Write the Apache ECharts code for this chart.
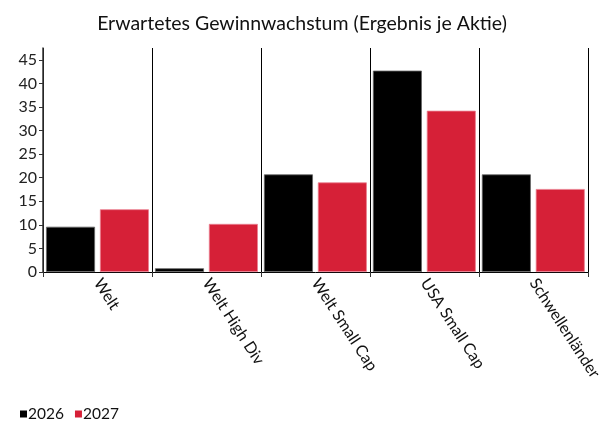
<!DOCTYPE html>
<html><head><meta charset="utf-8">
<script src="https://cdn.jsdelivr.net/npm/echarts@6/dist/echarts.min.js"></script>
<style>html,body{margin:0;padding:0;background:#fff}#c{width:604px;height:421px}</style>
</head><body><div id="c"></div>
<script>
const categories = ['Welt', 'Welt High Div', 'Welt Small Cap', 'USA Small Cap', 'Schwellenländer'];
const values2026 = [9.6, 0.8, 20.7, 42.7, 20.7];
const values2027 = [13.3, 10.2, 19.0, 34.2, 17.6];
const yTicks = [0, 5, 10, 15, 20, 25, 30, 35, 40, 45];
const seriesNames = ['2026', '2027'];

const FONT = 'Lato';
const chart = echarts.init(document.getElementById('c'), null, {renderer: 'canvas'});
chart.setOption({
  animation: false,
  backgroundColor: '#fff',
  title: {
    text: 'Erwartetes Gewinnwachstum (Ergebnis je Aktie)',
    left: 'center', top: 9,
    textStyle: {fontFamily: FONT, fontSize: 19.5, fontWeight: 'normal', color: '#111'}
  },
  legend: {
    data: seriesNames,
    left: 15, top: 401,
    itemWidth: 7, itemHeight: 7, itemGap: 11,
    icon: 'rect',
    itemStyle: {borderWidth: 0},
    textStyle: {fontFamily: FONT, fontSize: 15.5, color: '#111', padding: [0, 0, 0, -4]}
  },
  grid: {left: 43, right: 14, top: 48, bottom: 149, containLabel: false},
  xAxis: {
    type: 'category',
    data: categories,
    axisLine: {lineStyle: {color: '#000', width: 1}},
    axisTick: {show: true, length: 5, lineStyle: {color: '#333'}},
    splitLine: {show: true, lineStyle: {color: '#000', width: 1}},
    axisLabel: {
      rotate: -57, interval: 0, margin: 8,
      fontFamily: FONT, fontSize: 16, color: '#111'
    }
  },
  yAxis: {
    type: 'value',
    min: 0, max: 47.5, interval: 5,
    axisLine: {show: true, lineStyle: {color: '#333', width: 1.5}},
    axisTick: {show: true, length: 4, customValues: yTicks, lineStyle: {color: '#333'}},
    splitLine: {show: false},
    axisLabel: {customValues: yTicks, fontFamily: FONT, fontSize: 16, color: '#222', margin: 6}
  },
  series: [
    {name: seriesNames[0], type: 'bar', data: values2026, barWidth: 49, barGap: '10%',
     itemStyle: {color: '#000', borderColor: '#666', borderWidth: 0.8}},
    {name: seriesNames[1], type: 'bar', data: values2027, barWidth: 49, barGap: '10%',
     itemStyle: {color: '#d62037', borderColor: '#ea8090', borderWidth: 0.8}}
  ]
});
</script></body></html>
